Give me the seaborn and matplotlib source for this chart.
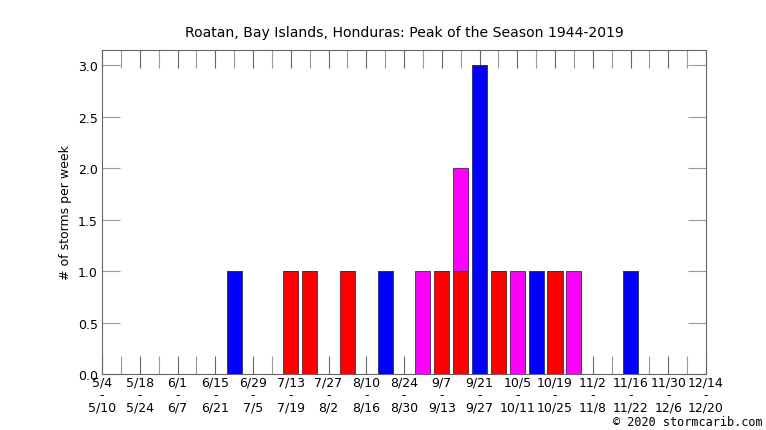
import numpy as np
import pandas as pd
import matplotlib
matplotlib.use("Agg")
import matplotlib.pyplot as plt
import seaborn as sns

sns.set_theme(style="white")
plt.rcParams['font.family'] = ['DejaVu Sans']
plt.rcParams.update({"text.color": "black", "axes.labelcolor": "black",
                     "xtick.color": "black", "ytick.color": "black"})

# week index (0 = week of 5/4) for each storm type
ts_weeks = [7, 15, 20, 23, 28]
ts_counts = [1, 1, 3, 1, 1]
hu_weeks = [10, 11, 13, 18, 19, 21, 24]
hu_counts = [1, 1, 1, 1, 1, 1, 1]
mh_weeks = [17, 19, 22, 25]
mh_counts = [1, 1, 1, 1]

week_labels = ["5/4\n-\n5/10", "5/18\n-\n5/24", "6/1\n-\n6/7", "6/15\n-\n6/21",
               "6/29\n-\n7/5", "7/13\n-\n7/19", "7/27\n-\n8/2", "8/10\n-\n8/16",
               "8/24\n-\n8/30", "9/7\n-\n9/13", "9/21\n-\n9/27", "10/5\n-\n10/11",
               "10/19\n-\n10/25", "11/2\n-\n11/8", "11/16\n-\n11/22",
               "11/30\n-\n12/6", "12/14\n-\n12/20"]
n_weeks = 33

df = pd.concat([
    pd.DataFrame({"week": ts_weeks, "count": ts_counts, "kind": "ts"}),
    pd.DataFrame({"week": hu_weeks, "count": hu_counts, "kind": "hu"}),
    pd.DataFrame({"week": mh_weeks, "count": mh_counts, "kind": "mh"}),
])

fig = plt.figure(figsize=(7.66, 4.31), dpi=100)
ax = fig.add_axes([102/766, 56/431, 604/766, 324/431])

sns.histplot(data=df, x="week", weights="count", hue="kind",
             hue_order=["mh", "hu", "ts"], multiple="stack", discrete=True,
             shrink=0.8, palette={"ts": "#0000ff", "hu": "#ff0000", "mh": "#ff00ff"},
             alpha=1, edgecolor="#333333", linewidth=0.6, legend=False, ax=ax)

ax.set_xlim(0, n_weeks - 1)
ax.set_ylim(0, 3.15)
ax.set_xlabel("")
ax.set_ylabel("# of storms per week", fontsize=9)
ax.set_title("Roatan, Bay Islands, Honduras: Peak of the Season 1944-2019",
             fontsize=10.1, pad=10)

ax.set_xticks(np.arange(0, n_weeks, 2))
ax.set_xticklabels(week_labels, fontsize=9, linespacing=0.95)
ax.set_xticks(np.arange(1, n_weeks, 2), minor=True)
ax.set_yticks(np.arange(0, 3.01, 0.5))
ax.set_yticklabels([f"{v:.1f}" for v in np.arange(0, 3.01, 0.5)], fontsize=9)

ax.tick_params(axis="both", which="both", direction="in", length=13,
               width=0.8, color="#999999", top=True, right=True,
               bottom=True, left=True)
ax.tick_params(axis="x", which="major", color="#666666", pad=1)
ax.tick_params(axis="y", pad=3)
for s in ax.spines.values():
    s.set_color("#666666")
    s.set_linewidth(0.8)

fig.text(0.995, 0.005, "\u00a9 2020 stormcarib.com", ha="right", va="bottom",
         fontsize=8.5, family="DejaVu Sans Mono")

fig.savefig("out.png", dpi=100)
